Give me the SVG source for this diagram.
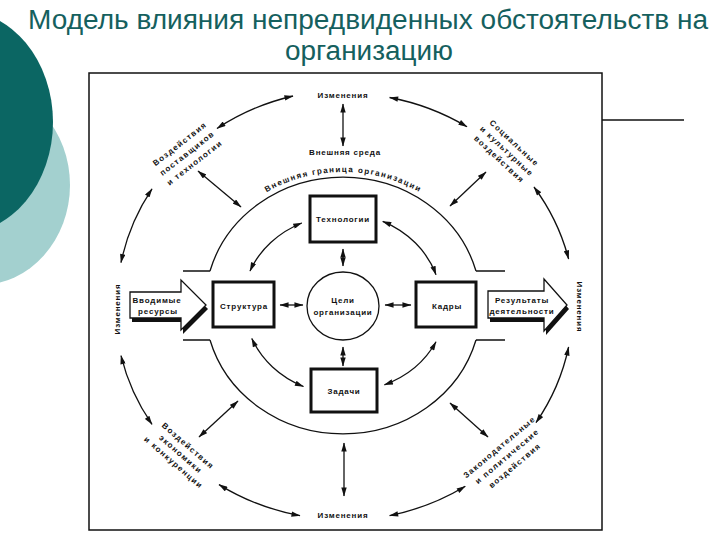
<svg xmlns="http://www.w3.org/2000/svg" width="720" height="540" viewBox="0 0 720 540">
<defs>
<marker id="ah" viewBox="0 0 10 6" refX="9.5" refY="3" markerWidth="10" markerHeight="5.4" markerUnits="userSpaceOnUse" orient="auto-start-reverse">
<path d="M0,0 L10,3 L0,6 z" fill="#111"/>
</marker>
<path id="bpath" d="M199,305 A144 133 0 0 1 487,305"/>
</defs>
<style>
.t{font-family:"Liberation Sans",Arial,sans-serif;font-weight:bold;font-size:8px;letter-spacing:0.8px;fill:#111;text-anchor:middle}
.c{letter-spacing:1.3px}
.ttl{font-family:"Liberation Sans",Arial,sans-serif;font-size:27px;fill:#15605e;text-anchor:middle}
.ln{fill:none;stroke:#111;stroke-width:1.3}
.arr{fill:none;stroke:#111;stroke-width:1.3;marker-start:url(#ah);marker-end:url(#ah)}
.box{fill:#fff;stroke:#111;stroke-width:3}
</style>
<rect width="720" height="540" fill="#fff"/>
<g id="background">
<ellipse cx="-20" cy="185" rx="90" ry="100" fill="#a3d0cf"/>
<ellipse cx="-40" cy="122" rx="93" ry="112" fill="#0b6663"/>
</g>
<g id="title">
<text class="ttl" x="368" y="29" textLength="680" lengthAdjust="spacingAndGlyphs">Модель влияния непредвиденных обстоятельств на</text>
<text class="ttl" x="369" y="60" textLength="168" lengthAdjust="spacingAndGlyphs">организацию</text>
</g>
<g id="frame">
<rect x="89" y="73" width="513" height="457" fill="none" stroke="#111" stroke-width="1.5"/>
<line x1="602" y1="120" x2="684" y2="120" stroke="#111" stroke-width="1.5"/>
</g>
<g id="boundary">
<path class="ln" d="M210,271 A138 128 0 0 1 476,271 M183,271 H210 M476,271 H505 M210,340 A138 128 0 0 0 476,340 M183,340 H210 M476,340 H505"/>
<text class="t"><textPath href="#bpath" startOffset="50%" textLength="160" lengthAdjust="spacing">Внешняя граница организации</textPath></text>
</g>
<g id="connectors">
<path class="arr" d="M293,96 A228 215 0 0 0 217,128.5"/>
<path class="arr" d="M389.6,97.5 A228 215 0 0 1 467,126.8"/>
<path class="arr" d="M152,188.8 A228 215 0 0 0 121,262.6"/>
<path class="arr" d="M121,355.6 A228 215 0 0 0 152,424.4"/>
<path class="arr" d="M219,484.6 A228 215 0 0 0 300,515.6"/>
<path class="arr" d="M389.6,515.6 A228 215 0 0 0 465.3,486.3"/>
<path class="arr" d="M536,422.6 A228 215 0 0 0 568.6,347"/>
<path class="arr" d="M568.6,259 A228 215 0 0 0 534,187"/>
<line class="arr" x1="343" y1="104" x2="343" y2="146"/>
<line class="arr" x1="344" y1="443" x2="344" y2="496"/>
<line class="arr" x1="198" y1="171" x2="241" y2="207"/>
<line class="arr" x1="486" y1="172" x2="450" y2="206"/>
<line class="arr" x1="238" y1="401" x2="199" y2="437"/>
<line class="arr" x1="450" y1="403" x2="488" y2="437"/>
<path class="arr" d="M301.8,223 A100 90 0 0 0 250,271"/>
<path class="arr" d="M382.7,221.3 A100 90 0 0 1 436,274.7"/>
<path class="arr" d="M251.8,338.4 A100 90 0 0 0 303.5,386.5"/>
<path class="arr" d="M436,341.8 A100 90 0 0 1 384.4,384.8"/>
<line class="arr" x1="343" y1="249" x2="343" y2="266"/>
<line class="arr" x1="343" y1="347" x2="343" y2="366"/>
<line class="arr" x1="280" y1="305" x2="303" y2="305"/>
<line class="arr" x1="385" y1="305" x2="411" y2="305"/>
</g>
<g id="n-izm-top"><text class="t" x="343" y="98">Изменения</text></g>
<g id="n-sreda"><text class="t" x="345" y="155">Внешняя среда</text></g>
<g id="n-izm-bottom"><text class="t" x="343" y="518">Изменения</text></g>
<g id="n-izm-left"><text class="t" transform="translate(120,309) rotate(-90)">Изменения</text></g>
<g id="n-izm-right"><text class="t" transform="translate(577,307) rotate(90)">Изменения</text></g>
<g id="n-ul" transform="translate(187,153) rotate(-38)">
<text class="t c" x="0" y="-9">Воздействия</text>
<text class="t c" x="0" y="3">поставщиков</text>
<text class="t c" x="0" y="15">и технологии</text>
</g>
<g id="n-ur" transform="translate(507,151) rotate(43)">
<text class="t c" x="0" y="-8">Социальные</text>
<text class="t c" x="0" y="3">и культурные</text>
<text class="t c" x="0" y="14">воздействия</text>
</g>
<g id="n-ll" transform="translate(181,454) rotate(41)">
<text class="t c" x="0" y="-8">Воздействия</text>
<text class="t c" x="0" y="3">экономики</text>
<text class="t c" x="0" y="14">и конкуренции</text>
</g>
<g id="n-lr" transform="translate(507,456) rotate(-40)">
<text class="t c" x="0" y="-9">Законодательные</text>
<text class="t c" x="0" y="3">и политические</text>
<text class="t c" x="0" y="15">воздействия</text>
</g>
<g id="n-tech">
<rect class="box" x="310" y="196" width="66" height="46"/>
<text class="t" x="343" y="222">Технологии</text>
</g>
<g id="n-struct">
<rect class="box" x="213" y="282" width="61" height="45"/>
<text class="t" x="244" y="309">Структура</text>
</g>
<g id="n-kadry">
<rect class="box" x="416" y="282" width="60" height="45"/>
<text class="t" x="447" y="309">Кадры</text>
</g>
<g id="n-zadachi">
<rect class="box" x="311" y="369" width="66" height="43"/>
<text class="t" x="344" y="394">Задачи</text>
</g>
<g id="n-goals">
<ellipse cx="343" cy="306" rx="36" ry="34" fill="#fff" stroke="#111" stroke-width="1.3"/>
<text class="t" x="343" y="303">Цели</text>
<text class="t" x="343" y="315">организации</text>
</g>
<g id="n-input">
<polygon points="130,292 181,292 181,280 206,305 181,330 181,318 130,318" fill="#111" transform="translate(2,4)"/>
<polygon points="130,292 181,292 181,280 206,305 181,330 181,318 130,318" fill="#fff" stroke="#111" stroke-width="1.3"/>
<text class="t" x="157" y="303">Вводимые</text>
<text class="t" x="158" y="314">ресурсы</text>
</g>
<g id="n-output">
<polygon points="488,291 544,291 544,279 567,305 544,331 544,318 488,318" fill="#111" transform="translate(2,4)"/>
<polygon points="488,291 544,291 544,279 567,305 544,331 544,318 488,318" fill="#fff" stroke="#111" stroke-width="1.3"/>
<text class="t" x="522" y="303">Результаты</text>
<text class="t" x="522" y="314">деятельности</text>
</g>
</svg>
